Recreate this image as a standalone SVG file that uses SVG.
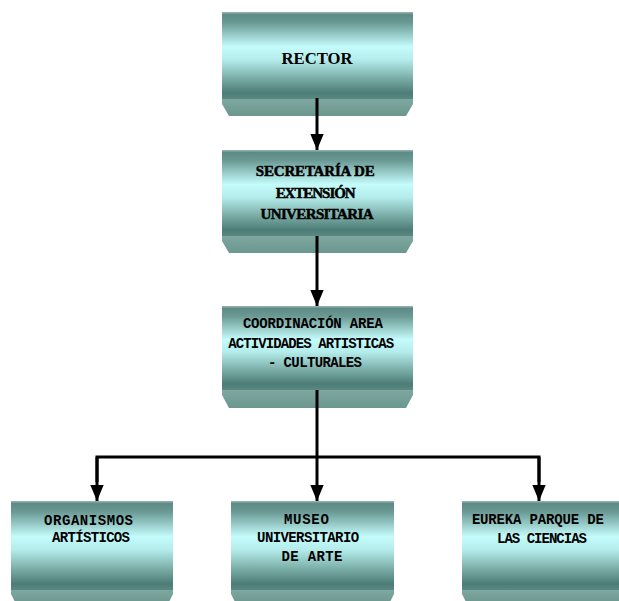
<svg xmlns="http://www.w3.org/2000/svg" width="619" height="601" viewBox="0 0 619 601">
  <style>
    .face { fill: url(#tube); }
    .base { fill: url(#baseGrad); }
    .wire { fill: none; stroke: #000; stroke-width: 3; }
    .title { font-family: "Liberation Serif", "Times New Roman", serif; font-weight: bold; fill: #000; }
    .heavy { stroke: #000; stroke-width: 0.5; }
    .mono { font-family: "Liberation Mono", "Courier New", monospace; font-weight: bold; fill: #000; font-size: 14px; }
  </style>
  <defs>
    <linearGradient id="tube" x1="0" y1="0" x2="0" y2="1">
      <stop offset="0" stop-color="#9ab8b5"/>
      <stop offset="0.03" stop-color="#5d8a84"/>
      <stop offset="0.12" stop-color="#6a9994"/>
      <stop offset="0.40" stop-color="#c4fcfb"/>
      <stop offset="0.55" stop-color="#b3ecea"/>
      <stop offset="0.78" stop-color="#76a8a2"/>
      <stop offset="0.93" stop-color="#4d7c76"/>
      <stop offset="1" stop-color="#5a8983"/>
    </linearGradient>
    <linearGradient id="baseGrad" x1="0" y1="0" x2="0" y2="1">
      <stop offset="0" stop-color="#7ea79f"/>
      <stop offset="1" stop-color="#6b978f"/>
    </linearGradient>
    <marker id="head" markerUnits="userSpaceOnUse" markerWidth="16" markerHeight="20" refX="18" refY="8" orient="auto" viewBox="0 0 18 16">
      <path d="M0,0.5 L18,8 L0,15.5 Z" fill="#000"/>
    </marker>
  </defs>

  <!-- RECTOR -->
  <g id="rector">
    <path class="base" d="M222,99 H413 V104 L406,116 H229 L222,104 Z"/>
    <rect class="face" x="222" y="12" width="191" height="87"/>
    <text class="title" x="317" y="64" font-size="17" text-anchor="middle" textLength="71" lengthAdjust="spacingAndGlyphs">RECTOR</text>
  </g>

  <!-- Secretaría de Extensión Universitaria -->
  <g id="secretaria">
    <path class="base" d="M222,236 H413 V241 L406,253 H229 L222,241 Z"/>
    <rect class="face" x="222" y="150" width="191" height="86"/>
    <text class="title heavy" font-size="15" text-anchor="middle" lengthAdjust="spacingAndGlyphs">
      <tspan x="317" y="176" textLength="119">SECRETARÍA DE</tspan>
      <tspan x="317" y="198" textLength="80">EXTENSIÓN</tspan>
      <tspan x="317" y="219" textLength="113">UNIVERSITARIA</tspan>
    </text>
  </g>

  <!-- Coordinación Área Actividades Artísticas - Culturales -->
  <g id="coordinacion">
    <path class="base" d="M222,390 H413 V395 L406,408 H229 L222,395 Z"/>
    <rect class="face" x="222" y="306" width="191" height="84"/>
    <text class="mono" text-anchor="middle" lengthAdjust="spacingAndGlyphs">
      <tspan x="317" y="328" textLength="140">COORDINACIÓN AREA</tspan>
      <tspan x="315" y="348" textLength="166">ACTIVIDADES ARTISTICAS</tspan>
      <tspan x="315" y="367" textLength="94">- CULTURALES</tspan>
    </text>
  </g>

  <!-- Organismos Artísticos -->
  <g id="organismos">
    <path class="base" d="M11,590 H173 V594 L168,604 H16 L11,594 Z"/>
    <rect class="face" x="11" y="501" width="162" height="89"/>
    <text class="mono" text-anchor="middle" lengthAdjust="spacingAndGlyphs">
      <tspan x="93" y="525" textLength="89">ORGANISMOS</tspan>
      <tspan x="91" y="542" textLength="78">ARTÍSTICOS</tspan>
    </text>
  </g>

  <!-- Museo Universitario de Arte -->
  <g id="museo">
    <path class="base" d="M231,590 H394 V594 L389,604 H236 L231,594 Z"/>
    <rect class="face" x="231" y="501" width="163" height="89"/>
    <text class="mono" text-anchor="middle" lengthAdjust="spacingAndGlyphs">
      <tspan x="311" y="524" textLength="45">MUSEO</tspan>
      <tspan x="312" y="542" textLength="102">UNIVERSITARIO</tspan>
      <tspan x="312" y="561" textLength="61">DE ARTE</tspan>
    </text>
  </g>

  <!-- Eureka Parque de las Ciencias -->
  <g id="eureka">
    <path class="base" d="M462,590 H625 V604 H467 L462,594 Z"/>
    <rect class="face" x="462" y="501" width="163" height="89"/>
    <text class="mono" text-anchor="middle" lengthAdjust="spacingAndGlyphs">
      <tspan x="542" y="524" textLength="132">EUREKA PARQUE DE</tspan>
      <tspan x="542" y="543" textLength="90">LAS CIENCIAS</tspan>
    </text>
  </g>

  <!-- connectors -->
  <g id="connectors">
    <line class="wire" x1="317" y1="98" x2="317" y2="150" marker-end="url(#head)"/>
    <line class="wire" x1="317" y1="236" x2="317" y2="306" marker-end="url(#head)"/>
    <line class="wire" x1="317" y1="390" x2="317" y2="457"/>
    <polyline class="wire" points="97,482 97,457 539,457 539,482"/>
    <line class="wire" x1="97" y1="457" x2="97" y2="501" marker-end="url(#head)"/>
    <line class="wire" x1="317" y1="457" x2="317" y2="501" marker-end="url(#head)"/>
    <line class="wire" x1="539" y1="457" x2="539" y2="501" marker-end="url(#head)"/>
  </g>
</svg>
